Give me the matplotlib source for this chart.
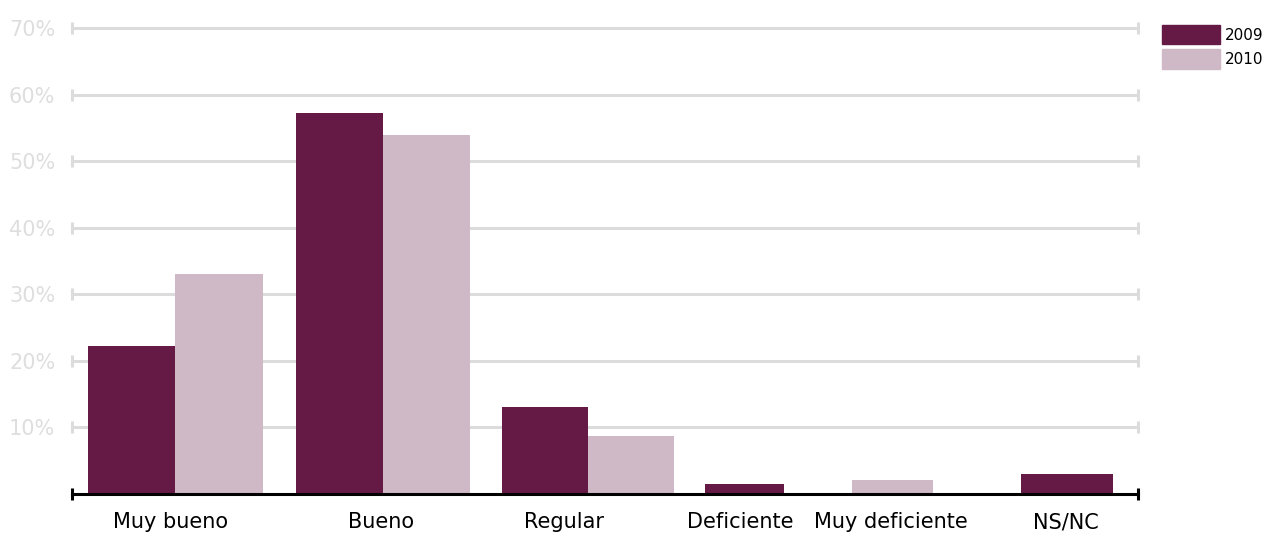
import numpy as np
import matplotlib
matplotlib.use("Agg")
import matplotlib.pyplot as plt
from matplotlib.patches import Patch

categories = ['Muy bueno', 'Bueno', 'Regular', 'Deficiente', 'Muy deficiente', 'NS/NC']
v2009 = [22.2, 57.2, 13.1, 1.5, 0.0, 3.0]
v2010 = [33.0, 53.9, 8.7, 0.0, 2.1, 0.0]
years = ['2009', '2010']
yticks = [10, 20, 30, 40, 50, 60, 70]

# layout (x units = pixels from the left end of the axis)
centers = [103, 310.5, 516, 672.5, 820.5, 995]
widths = [87.5, 87, 86, 79, 81, 92]
label_x = [98.5, 309, 491.5, 668.5, 819, 993.5]

c2009 = '#651a45'
c2010 = '#d0b9c6'
grid_c = '#dcdcdc'

fig = plt.figure(figsize=(12.69, 5.33), dpi=100)
ax = fig.add_axes([72 / 1269, 1 - 494 / 533, 1066 / 1269, 466 / 533])
ax.set_xlim(0, 1066)
ax.set_ylim(0, 70)

# gridlines with little end caps
for y in yticks:
    ax.plot([0, 1066], [y, y], color=grid_c, lw=2.2, zorder=0, clip_on=False,
            marker='|', markersize=8, markeredgewidth=2.2)

for i, cat in enumerate(categories):
    a, b = v2009[i], v2010[i]
    w = widths[i]
    c = centers[i]
    if a > 0 and b > 0:
        ax.bar(c - w / 2, a, width=w, color=c2009, zorder=2)
        ax.bar(c + w / 2, b, width=w, color=c2010, zorder=2)
    elif a > 0:
        ax.bar(c, a, width=w, color=c2009, zorder=2)
    else:
        ax.bar(c, b, width=w, color=c2010, zorder=2)

# x axis line with end caps
ax.plot([0, 1066], [0, 0], color='black', lw=2.2, zorder=3, clip_on=False,
        marker='|', markersize=9, markeredgewidth=2.2)

for s in ax.spines.values():
    s.set_visible(False)

ax.set_yticks(yticks)
ax.set_yticklabels([f'{t}%' for t in yticks], color='#dedede', fontsize=15)
ax.tick_params(axis='y', length=0, pad=12)
ax.set_xticks(label_x)
ax.set_xticklabels(categories, fontsize=15, color='black')
ax.tick_params(axis='x', length=0, pad=13)

handles = [Patch(color=c2009), Patch(color=c2010)]
fig.legend(handles, years, loc='upper left', bbox_to_anchor=(1162 / 1269, 1 - 25 / 533),
           frameon=False, fontsize=11, handlelength=3.8, handleheight=1.55,
           handletextpad=0.3, labelspacing=0.35, borderaxespad=0, borderpad=0)

fig.savefig('out.png', dpi=100)
